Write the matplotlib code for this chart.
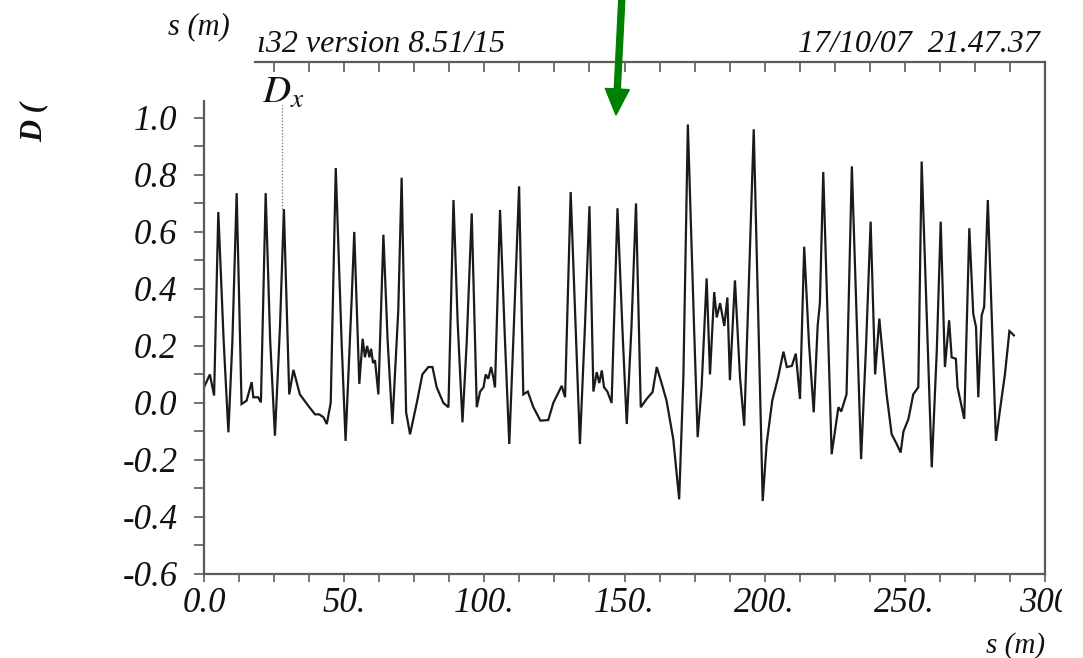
import numpy as np
import matplotlib
matplotlib.use("Agg")
import matplotlib.pyplot as plt
from matplotlib.patches import FancyArrow
from matplotlib.transforms import Bbox, TransformedBbox, IdentityTransform

# ---- data ----
s_m = [0.0, 2.1, 3.6, 5.1, 7.0, 8.7, 10.1, 11.65, 13.4, 15.2, 17.0, 17.6, 19.3, 20.3,
       22.0, 23.6, 25.3, 27.1, 28.5, 30.4, 31.9, 34.2, 37.2, 39.6, 41.1, 42.6, 43.8, 45.2,
       47.0, 49.1, 50.5, 52.7, 53.6, 55.4, 56.6, 57.4, 58.2, 59.0, 59.6, 60.3, 61.0, 62.2,
       64.0, 65.5, 67.2, 69.3, 70.5, 72.1, 73.5, 75.9, 77.9, 80.0, 81.5, 83.0, 85.4, 87.2,
       89.0, 90.5, 92.2, 93.7, 95.5, 97.3, 98.5, 99.7, 100.5, 101.4, 102.4, 103.2, 103.8,
       105.6, 107.4, 108.9, 110.3, 112.4, 113.9, 115.5, 117.5, 120.0, 122.8, 124.6, 127.6,
       128.8, 130.8, 133.0, 134.1, 135.9, 137.5, 138.9, 140.1, 141.0, 141.9, 142.7, 143.9,
       145.4, 147.5, 149.3, 150.8, 152.5, 154.1, 155.8, 157.9, 160.0, 161.5, 163.3, 165.0,
       167.4, 169.5, 171.0, 172.6, 174.8, 176.1, 177.5, 179.3, 180.5, 182.0, 182.9, 184.1,
       185.6, 186.7, 187.6, 189.4, 191.2, 192.7, 194.2, 196.1, 199.3, 200.7, 202.7, 204.8,
       206.7, 207.9, 209.7, 211.1, 212.6, 214.1, 215.8, 217.5, 218.9, 219.7, 220.9, 223.9,
       226.3, 227.3, 229.2, 230.0, 231.1, 234.4, 236.2, 237.8, 239.4, 240.9, 241.7, 243.5,
       245.3, 247.1, 248.5, 249.5, 251.3, 253.0, 254.8, 256.0, 259.6, 261.4, 262.8, 264.3,
       265.8, 266.7, 268.2, 268.8, 271.2, 273.0, 274.4, 275.4, 276.2, 277.4, 278.3, 279.6,
       282.5, 283.9, 285.7, 287.3, 288.1, 288.9]
dx_m = [0.055, 0.10, 0.026, 0.67, 0.22, -0.103, 0.21, 0.736, -0.004, 0.008, 0.073, 0.02, 0.02, 0.002,
        0.736, 0.22, -0.115, 0.266, 0.68, 0.03, 0.116, 0.03, -0.01, -0.04, -0.04, -0.05, -0.074, 0.0,
        0.824, 0.21, -0.133, 0.37, 0.60, 0.067, 0.225, 0.16, 0.20, 0.16, 0.19, 0.14, 0.15, 0.03,
        0.59, 0.22, -0.074, 0.325, 0.79, -0.033, -0.11, 0.0, 0.10, 0.126, 0.126, 0.055, 0.0, -0.015,
        0.712, 0.28, -0.068, 0.21, 0.665, -0.015, 0.04, 0.055, 0.10, 0.085, 0.126, 0.09, 0.055,
        0.677, 0.21, -0.144, 0.21, 0.76, 0.03, 0.04, -0.015, -0.062, -0.06, 0.0, 0.06,
        0.02, 0.74, 0.15, -0.144, 0.27, 0.69, 0.04, 0.108, 0.07, 0.114, 0.055, 0.04,
        0.0, 0.683, 0.25, -0.074, 0.27, 0.70, -0.015, 0.014, 0.038, 0.126, 0.067, 0.008,
        -0.127, -0.338, 0.09, 0.977, 0.27, -0.12, 0.055, 0.437, 0.10, 0.389, 0.30, 0.35,
        0.27, 0.37, 0.08, 0.43, 0.09, -0.08, 0.37, 0.96, -0.344, -0.144, 0.008, 0.09,
        0.18, 0.126, 0.13, 0.173, 0.014, 0.548, 0.21, -0.033, 0.27, 0.35, 0.81, -0.18,
        -0.015, -0.03, 0.03, 0.37, 0.83, -0.197, 0.21, 0.636, 0.10, 0.296, 0.21, 0.03,
        -0.11, -0.144, -0.174, -0.10, -0.056, 0.03, 0.055, 0.847, -0.226, 0.184, 0.636, 0.126,
        0.29, 0.16, 0.155, 0.055, -0.056, 0.613, 0.313, 0.266, 0.02, 0.307, 0.337, 0.712,
        -0.133, -0.027, 0.10, 0.252, 0.245, 0.237]

y_ticks = [-0.6, -0.4, -0.2, 0.0, 0.2, 0.4, 0.6, 0.8, 1.0]
y_ticklabels = ["-0.6", "-0.4", "-0.2", "0.0", "0.2", "0.4", "0.6", "0.8", "1.0"]
x_ticks = [0, 50, 100, 150, 200, 250, 300]
x_ticklabels = ["0.0", "50.", "100.", "150.", "200.", "250.", "300"]
marker_s = 28.0   # position of the D_x label marker line
marker_d = 0.68

W, H = 1083, 658
plt.rcParams['font.family'] = ['Liberation Serif', 'DejaVu Serif']
plt.rcParams['mathtext.fontset'] = 'stix'
fig = plt.figure(figsize=(W / 100, H / 100), dpi=100)
fig.patch.set_facecolor('white')

def fx(px):
    return px / W

def fy(py):
    return 1 - py / H

left, right, top, bottom = 204, 1045, 62, 574
ax = fig.add_axes([fx(left), fy(bottom), (right - left) / W, (bottom - top) / H])
ax.set_xlim(0, 300)
ax.set_ylim(-0.6, 1.196)

spine_col = '#5a5a5a'
for sp in ax.spines.values():
    sp.set_color(spine_col)
    sp.set_linewidth(1.6)
ax.spines['top'].set_visible(False)
ax.spines['left'].set_bounds(-0.6, 1.06)

ax.plot(s_m, dx_m, color='#1a1a1a', lw=1.6, solid_joinstyle='miter')

ax.set_yticks(y_ticks)
ax.set_yticklabels(y_ticklabels)
ax.set_yticks(np.arange(-0.6, 1.01, 0.1), minor=True)
ax.set_xticks(x_ticks)
ax.set_xticklabels(x_ticklabels)
ax.set_xticks(np.arange(0, 300.1, 12.5), minor=True)
ax.tick_params(axis='y', which='both', direction='out', length=7, width=1.2,
               color=spine_col, labelsize=25, pad=12)
ax.tick_params(axis='x', which='both', direction='out', length=6, width=1.2,
               color=spine_col, labelsize=25, pad=3)
for lab in ax.get_yticklabels() + ax.get_xticklabels():
    lab.set_fontstyle('italic')
    lab.set_color('#111111')

clip_right = TransformedBbox(Bbox([[0, 0], [1062 / W, 1]]), fig.transFigure)
for lab in ax.get_xticklabels():
    lab.set_clip_on(True)
    lab.set_clip_box(clip_right)

# top frame with inward ticks
ax2 = ax.twiny()
ax2.set_xlim(ax.get_xlim())
for k in ['left', 'right', 'bottom']:
    ax2.spines[k].set_visible(False)
ax2.spines['top'].set_color(spine_col)
ax2.spines['top'].set_linewidth(1.6)
ax2.spines['top'].set_bounds(18.2, 300)
ax2.set_xticks(np.arange(25, 300.1, 12.5))
ax2.tick_params(axis='x', direction='in', length=7, width=1.2, color=spine_col,
                labeltop=False)

# D_x label and dotted marker line
ax.plot([marker_s, marker_s], [marker_d, 1.045], color='#707070', lw=0.9,
        linestyle=(0, (1, 1.5)))
fig.text(fx(262), fy(103), r'$D_{x}$', fontsize=28, color='#111111', ha='left', va='baseline')

# headers
fig.text(fx(505), fy(52), '\u013132 version 8.51/15', fontsize=23, style='italic',
         ha='right', va='baseline', color='#111111')
fig.text(fx(1040), fy(52), '17/10/07  21.47.37', fontsize=23, style='italic',
         ha='right', va='baseline', color='#111111')
fig.text(fx(230), fy(34), 's (m)', fontsize=22, style='italic', ha='right',
         va='baseline', color='#111111')
fig.text(fx(1045), fy(632), 's (m)', fontsize=21, style='italic', ha='right',
         va='top', color='#111111')
fig.text(fx(34), fy(142), 'D (', fontsize=22, style='italic', weight='bold',
         rotation=90, ha='center', va='bottom', color='#111111')

# green arrow
arrow = FancyArrow(622, H + 5, -6, -(H + 5 - (H - 115)), width=6, head_width=24,
                   head_length=26, length_includes_head=True, color='#008000',
                   transform=IdentityTransform())
fig.add_artist(arrow)

fig.savefig('out.png', dpi=100, facecolor='white')
